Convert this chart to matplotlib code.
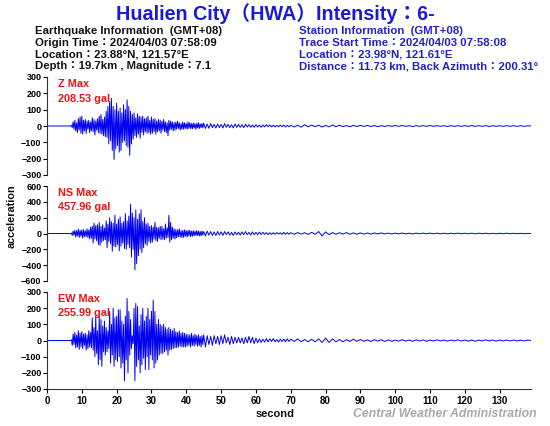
import numpy as np
import matplotlib
matplotlib.use("Agg")
import matplotlib.pyplot as plt

# ---------------- data (gal) ----------------
# early: 0.25 s samples from 5.0 to 44.75 s
# mid:   0.5 s samples from 45.0 to 69.5 s
# late:  1 s samples from 70 to 139 s
z_early = [0,0,0,0,0,0,0,0,
           5,-10,25,-20,35,-30,20,-40,
           45,-25,55,-45,60,-50,35,-30,
           40,-45,30,-20,35,-40,25,-30,
           50,-35,40,-55,30,-25,45,-40,
           60,-45,70,-50,40,-60,55,-65,
           90,-70,120,-110,150,-90,170,-150,
           120,-205,100,-140,140,-120,90,-160,
           110,-150,80,-100,130,-90,100,-120,
           160,-130,120,-180,90,-110,70,-80,
           80,-60,50,-70,75,-50,60,-75,
           55,-40,60,-55,45,-35,50,-45,
           60,-40,35,-50,55,-45,40,-35,
           45,-50,30,-35,40,-30,35,-45,
           30,-25,40,-35,25,-40,20,-60,
           35,-25,30,-20,25,-30,20,-25,
           25,-20,30,-15,20,-25,15,-20,
           25,-20,20,-15,15,-20,25,-15,
           20,-15,15,-18,18,-12,15,-20,
           15,-12,20,-15,12,-10,15,-12]
z_mid = [18,-15,12,-14,15,-10,10,-12,12,-10,
         10,-12,14,-8,10,-10,8,-12,12,-8,
         10,-8,8,-10,10,-6,8,-8,6,-8,
         8,-6,5,-8,6,-5,8,-4,6,-5,
         5,-6,4,-5,6,-4,5,-6,4,-5]
z_late = [4,-6,5,-7,8,-5,6,-4,5,-6,
          4,-5,6,-4,5,-4,3,-5,4,-3,
          4,-3,4,-3,3,-4,2,-3,3,-2,
          3,-2,3,-2,2,-3,2,-2,2,-2,
          3,-2,2,-2,2,-3,2,-2,2,-2,
          2,-2,3,-2,2,-2,2,-3,2,-2,
          2,-2,2,-2,2,-2,2,-2,1,0]

ns_early = [0,0,0,0,0,0,0,0,
            5,-25,30,-20,40,-45,35,-30,
            55,-50,40,-35,45,-60,50,-40,
            35,-40,60,-50,45,-70,80,-60,
            90,-120,130,-70,100,-90,110,-140,
            140,-150,90,-110,110,-90,70,-80,
            160,-180,120,-100,200,-130,150,-225,
            130,-160,230,-170,120,-140,180,-220,
            210,-160,130,-120,150,-190,250,-200,
            160,-140,220,-180,370,-300,260,-200,
            200,-460,300,-380,180,-280,250,-200,
            300,-240,150,-180,200,-130,120,-150,
            130,-100,90,-120,100,-110,80,-70,
            140,-90,80,-100,70,-60,90,-80,
            90,-70,60,-80,120,-60,70,-50,
            230,-110,140,-80,80,-60,60,-70,
            50,-55,45,-40,60,-45,35,-50,
            40,-50,45,-35,35,-45,40,-30,
            40,-40,30,-35,35,-30,30,-25,
            35,-25,30,-30,25,-30,30,-20]
ns_mid = [25,-30,30,-20,25,-25,20,-25,25,-20,
          20,-25,25,-15,20,-20,15,-25,20,-15,
          15,-20,20,-15,25,-15,15,-20,20,-15,
          15,-15,18,-12,15,-10,12,-14,10,-12,
          10,-10,12,-8,10,-12,15,-10,12,-10]
ns_late = [10,-10,12,-8,10,-12,15,-10,25,-30,
           20,-15,12,-10,10,-8,12,-10,8,-10,
           8,-8,6,-8,7,-6,8,-6,5,-6,
           5,-5,6,-5,4,-6,5,-4,5,-4,
           5,-4,5,-4,4,-5,4,-4,5,-4,
           4,-4,4,-5,4,-3,4,-4,3,-4,
           3,-3,4,-3,3,-3,3,-3,2,0]

ew_early = [0,0,0,0,0,0,0,0,
            5,-30,40,-25,50,-45,35,-40,
            60,-55,45,-40,55,-50,40,-30,
            45,-60,35,-50,60,-40,50,-45,
            140,-60,80,-100,150,-80,60,-150,
            150,-120,130,-160,90,-70,120,-90,
            80,-70,60,-50,180,-140,100,-90,
            200,-160,140,-120,150,-130,190,-100,
            190,-170,120,-140,100,-250,150,-120,
            260,-200,180,-90,130,-50,30,-20,
            200,-250,230,-160,210,-120,90,-200,
            160,-150,200,-110,120,-180,150,-100,
            200,-180,130,-90,180,-120,250,-170,
            180,-140,100,-120,130,-90,100,-80,
            90,-80,100,-70,80,-60,70,-90,
            80,-60,70,-55,60,-50,75,-45,
            55,-45,50,-40,60,-35,45,-40,
            50,-40,45,-40,40,-35,35,-30,
            35,-40,45,-30,30,-35,40,-25,
            30,-35,35,-30,25,-40,30,-25]
ew_mid = [35,-40,30,-25,25,-30,30,-20,25,-25,
          30,-20,35,-15,20,-25,25,-20,20,-15,
          20,-15,15,-20,20,-15,25,-15,20,-20,
          15,-15,10,-12,8,-10,12,-8,10,-6,
          12,-8,6,-10,8,-6,8,-8,10,-6]
ew_late = [8,-6,10,-8,6,-8,8,-8,10,-12,
           15,-12,10,-8,6,-8,5,-6,8,-5,
           6,-5,4,-6,5,-4,5,-6,4,-5,
           3,-4,5,-4,3,-5,4,-3,4,-5,
           3,-3,4,-3,3,-4,3,-3,4,-3,
           3,-4,3,-5,3,-3,4,-3,3,-4,
           3,-3,3,-3,3,-3,2,-3,2,0]

comp_names = ["Z", "NS", "EW"]
max_values = ["208.53", "457.96", "255.99"]
y_limits = [300, 600, 300]
y_steps = [100, 200, 100]
x_ticks = list(range(0, 140, 10))

title = "Hualien City（HWA）Intensity：6-"
eq_info = ["Earthquake Information  (GMT+08)",
           "Origin Time：2024/04/03 07:58:09",
           "Location：23.88°N, 121.57°E",
           "Depth：19.7km , Magnitude：7.1"]
st_info = ["Station Information  (GMT+08)",
           "Trace Start Time：2024/04/03 07:58:08",
           "Location：23.98°N, 121.61°E",
           "Distance：11.73 km, Back Azimuth：200.31°"]

# ---------------- figure ----------------
FAM = ["Liberation Sans", "Noto Sans CJK TC", "DejaVu Sans"]
plt.rcParams["font.family"] = FAM

W, H = 550, 426
fig = plt.figure(figsize=(W / 100, H / 100), dpi=100)


def build(early, mid, late):
    t = np.concatenate([[0.0],
                        5.0 + np.arange(len(early)) * 0.25,
                        45.0 + np.arange(len(mid)) * 0.5,
                        70.0 + np.arange(len(late)) * 1.0])
    v = np.array([0] + early + mid + late, float)
    return t, v


series = [build(z_early, z_mid, z_late),
          build(ns_early, ns_mid, ns_late),
          build(ew_early, ew_mid, ew_late)]

# axes boxes in pixels (top, bottom)
boxes = [(77, 175), (186, 281), (292, 389)]
left_px, right_px = 47, 531

for i, (top, bot) in enumerate(boxes):
    ax = fig.add_axes([left_px / W, 1 - bot / H, (right_px - left_px) / W, (bot - top) / H])
    t, v = series[i]
    ax.plot(t, v, color="#0000f0", lw=0.7)
    ax.set_xlim(0, 139)
    lim = y_limits[i]
    ax.set_ylim(-lim, lim)
    ax.set_yticks(np.arange(-lim, lim + 1, y_steps[i]))
    ax.tick_params(axis="y", labelsize=6.5, length=3, width=0.8, pad=1)
    for lab in ax.get_yticklabels():
        lab.set_fontweight("bold")
    for s in ["top", "right"]:
        ax.spines[s].set_visible(False)
    ax.spines["left"].set_linewidth(0.8)
    ax.spines["left"].set_color("#333333")
    if i < 2:
        ax.spines["bottom"].set_visible(False)
        ax.set_xticks([])
    else:
        ax.spines["bottom"].set_linewidth(0.8)
        ax.spines["bottom"].set_color("#333333")
        ax.set_xticks(x_ticks)
        ax.tick_params(axis="x", labelsize=7, length=3, width=0.8, pad=2)
        for lab in ax.get_xticklabels():
            lab.set_fontweight("bold")
    ax.patch.set_alpha(0)
    ax.text(0.022, 0.925, f"{comp_names[i]} Max", transform=ax.transAxes,
            color="#ee1111", fontsize=7.8, fontweight="bold", va="center", ha="left")
    ax.text(0.022, 0.78, f"{max_values[i]} gal", transform=ax.transAxes,
            color="#ee1111", fontsize=7.8, fontweight="bold", va="center", ha="left")

# texts
fig.text(275 / W, 1 - 14 / H, title, ha="center", va="center", fontsize=14.2,
         fontweight="bold", color="#1a1ad6")
for k, line in enumerate(eq_info):
    fig.text(35 / W, 1 - (31.5 + 11.6 * k) / H, line, ha="left", va="center",
             fontsize=8.2, fontweight="bold", color="#111111")
for k, line in enumerate(st_info):
    fig.text(299 / W, 1 - (31.5 + 11.6 * k) / H, line, ha="left", va="center",
             fontsize=8.2, fontweight="bold", color="#2222cc")

fig.text(12 / W, 1 - 216 / H, "acceleration", rotation=90, ha="center", va="center",
         fontsize=7.8, fontweight="bold", color="#111111")
fig.text(275 / W, 1 - 414 / H, "second", ha="center", va="center",
         fontsize=8, fontweight="bold", color="#111111")
fig.text(537 / W, 1 - 414 / H, "Central Weather Administration", ha="right", va="center",
         fontsize=8.8, fontweight="bold", style="italic", color="#a8a8a8")

fig.savefig("out.png", dpi=100)
